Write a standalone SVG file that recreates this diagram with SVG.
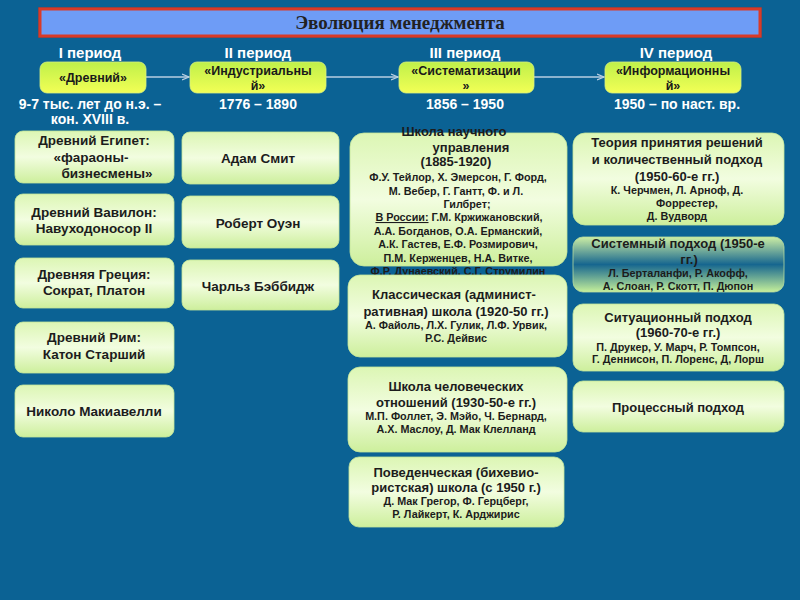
<svg xmlns="http://www.w3.org/2000/svg" width="800" height="600" viewBox="0 0 800 600">
<defs>
<linearGradient id="pill" x1="0" y1="0" x2="0" y2="1">
<stop offset="0" stop-color="#bff04a"/>
<stop offset="1" stop-color="#f2ff55"/>
</linearGradient>
<linearGradient id="box" x1="0" y1="0" x2="0" y2="1">
<stop offset="0" stop-color="#dcf6b4"/>
<stop offset="0.5" stop-color="#f2fde0"/>
<stop offset="1" stop-color="#cdef9c"/>
</linearGradient>
<linearGradient id="sys" x1="0" y1="0" x2="0" y2="1">
<stop offset="0" stop-color="#cdeea4"/>
<stop offset="0.5" stop-color="#16668f"/>
<stop offset="1" stop-color="#c6f09a"/>
</linearGradient>
<marker id="arr" markerWidth="8" markerHeight="8" refX="7" refY="4" orient="auto" markerUnits="userSpaceOnUse">
<path d="M0,1 L7,4 L0,7" fill="none" stroke="#b9cfe2" stroke-width="1.2"/>
</marker>
</defs>
<style>
.hdr{font-family:"Liberation Sans",Arial,sans-serif;font-weight:bold;font-size:15px;fill:#ffffff;text-anchor:middle}
.date{font-family:"Liberation Sans",Arial,sans-serif;font-weight:bold;font-size:14px;fill:#ffffff;text-anchor:middle}
.pt{font-family:"Liberation Sans",Arial,sans-serif;font-weight:bold;font-size:12.5px;fill:#1a1a1a;text-anchor:middle}
.t{font-family:"Liberation Sans",Arial,sans-serif;font-weight:bold;font-size:13px;fill:#1c1c1c;text-anchor:middle}
.t1{font-size:13.5px}
.s{font-family:"Liberation Sans",Arial,sans-serif;font-weight:bold;font-size:10.8px;fill:#1c1c1c;text-anchor:middle}
.pill{fill:url(#pill);stroke:#d8f080;stroke-width:0.8}
.bx{fill:url(#box);stroke:#c4e69a;stroke-width:0.8}
.conn{stroke:#b9cfe2;stroke-width:1.5;fill:none}
</style>
<rect width="800" height="600" fill="#0b6294"/>

<g id="title">
<rect x="38" y="7" width="724" height="31" fill="#8a3a3a" opacity="0.6"/>
<rect x="40" y="9" width="720" height="27" fill="#6e9cf6" stroke="#d93a28" stroke-width="3"/>
<text x="400" y="29" font-family="Liberation Serif,'Times New Roman',serif" font-size="19" font-weight="bold" fill="#222222" text-anchor="middle">Эволюция менеджмента</text>
</g>

<g id="connectors">
<line class="conn" x1="146" y1="77" x2="189" y2="77" marker-end="url(#arr)"/>
<line class="conn" x1="326" y1="77" x2="398" y2="77" marker-end="url(#arr)"/>
<line class="conn" x1="534" y1="77" x2="604" y2="77" marker-end="url(#arr)"/>
</g>

<g id="period1">
<text class="hdr" x="90" y="58">I период</text>
<rect class="pill" x="40" y="62" width="106" height="31" rx="7"/>
<text class="pt" x="93" y="82">«Древний»</text>
<text class="date" x="90" y="109">9-7 тыс. лет до н.э. –</text>
<text class="date" x="90" y="124">кон. XVIII в.</text>
</g>
<g id="period2">
<text class="hdr" x="258" y="58">II период</text>
<rect class="pill" x="190" y="62" width="136" height="31" rx="7"/>
<text class="pt" x="258" y="75">«Индустриальны</text>
<text class="pt" x="258" y="90">й»</text>
<text class="date" x="258" y="109">1776 – 1890</text>
</g>
<g id="period3">
<text class="hdr" x="465" y="58">III период</text>
<rect class="pill" x="399" y="62" width="135" height="31" rx="7"/>
<text class="pt" x="466" y="75">«Систематизации</text>
<text class="pt" x="466" y="90">»</text>
<text class="date" x="465" y="109">1856 – 1950</text>
</g>
<g id="period4">
<text class="hdr" x="676" y="58">IV период</text>
<rect class="pill" x="605" y="62" width="136" height="31" rx="7"/>
<text class="pt" x="673" y="75">«Информационны</text>
<text class="pt" x="673" y="90">й»</text>
<text class="date" x="677" y="109">1950 – по наст. вр.</text>
</g>

<g id="egypt">
<rect class="bx" x="15" y="131" width="159" height="52" rx="8"/>
<text class="t t1" x="94" y="145">Древний Египет:</text>
<text class="t t1" x="91" y="162">«фараоны-</text>
<text class="t t1" x="107" y="178">бизнесмены»</text>
</g>
<g id="babylon">
<rect class="bx" x="15" y="194" width="159" height="51" rx="8"/>
<text class="t t1" x="94" y="217">Древний Вавилон:</text>
<text class="t t1" x="94" y="233">Навуходоносор II</text>
</g>
<g id="greece">
<rect class="bx" x="15" y="258" width="159" height="50" rx="8"/>
<text class="t t1" x="94" y="279">Древняя Греция:</text>
<text class="t t1" x="94" y="295">Сократ, Платон</text>
</g>
<g id="rome">
<rect class="bx" x="15" y="322" width="159" height="51" rx="8"/>
<text class="t t1" x="94" y="342">Древний Рим:</text>
<text class="t t1" x="94" y="359">Катон Старший</text>
</g>
<g id="machiavelli">
<rect class="bx" x="15" y="385" width="159" height="52" rx="8"/>
<text class="t t1" x="94" y="416">Николо Макиавелли</text>
</g>

<g id="smith">
<rect class="bx" x="182" y="132" width="157" height="52" rx="8"/>
<text class="t t1" x="258" y="163">Адам Смит</text>
</g>
<g id="owen">
<rect class="bx" x="182" y="196" width="157" height="52" rx="8"/>
<text class="t t1" x="258" y="228">Роберт Оуэн</text>
</g>
<g id="babbage">
<rect class="bx" x="182" y="260" width="157" height="50" rx="8"/>
<text class="t t1" x="258" y="291">Чарльз Бэббидж</text>
</g>

<g id="scientific">
<rect class="bx" x="350" y="133" width="217" height="133" rx="14"/>
<text class="t" x="454" y="136">Школа научного</text>
<text class="t" x="471" y="152">управления</text>
<text class="t" x="456" y="166">(1885-1920)</text>
<text class="s" x="458" y="181">Ф.У. Тейлор, Х. Эмерсон, Г. Форд,</text>
<text class="s" x="456" y="195">М. Вебер, Г. Гантт, Ф. и Л.</text>
<text class="s" x="467" y="208">Гилбрет;</text>
<text class="s" x="459" y="221"><tspan text-decoration="underline">В России:</tspan> Г.М. Кржижановский,</text>
<text class="s" x="458" y="235">А.А. Богданов, О.А. Ерманский,</text>
<text class="s" x="458" y="248">А.К. Гастев, Е.Ф. Розмирович,</text>
<text class="s" x="458" y="262">П.М. Керженцев, Н.А. Витке,</text>
<text class="s" x="458" y="275">Ф.Р. Дунаевский, С.Г. Струмилин</text>
</g>
<g id="classical">
<rect class="bx" x="348" y="275" width="219" height="82" rx="12"/>
<text class="t" x="454" y="299">Классическая (админист-</text>
<text class="t" x="456" y="316">ративная) школа (1920-50 гг.)</text>
<text class="s" x="456" y="329">А. Файоль, Л.Х. Гулик, Л.Ф. Урвик,</text>
<text class="s" x="456" y="342">Р.С. Дейвис</text>
</g>
<g id="human">
<rect class="bx" x="348" y="367" width="219" height="85" rx="12"/>
<text class="t" x="456" y="391">Школа человеческих</text>
<text class="t" x="456" y="407">отношений (1930-50-е гг.)</text>
<text class="s" x="456" y="420">М.П. Фоллет, Э. Мэйо, Ч. Бернард,</text>
<text class="s" x="456" y="433">А.Х. Маслоу, Д. Мак Клелланд</text>
</g>
<g id="behavioral">
<rect class="bx" x="349" y="457" width="215" height="70" rx="10"/>
<text class="t" x="456" y="477">Поведенческая (бихевио-</text>
<text class="t" x="456" y="492">ристская) школа (с 1950 г.)</text>
<text class="s" x="456" y="505">Д. Мак Грегор, Ф. Герцберг,</text>
<text class="s" x="456" y="518">Р. Лайкерт, К. Арджирис</text>
</g>

<g id="decision">
<rect class="bx" x="573" y="133" width="211" height="92" rx="12"/>
<text class="t" x="677" y="147">Теория принятия решений</text>
<text class="t" x="677" y="164">и количественный подход</text>
<text class="t" x="677" y="181">(1950-60-е гг.)</text>
<text class="s" x="677" y="194">К. Черчмен, Л. Арноф, Д.</text>
<text class="s" x="687" y="207">Форрестер,</text>
<text class="s" x="677" y="220">Д. Вудворд</text>
</g>
<g id="systems">
<rect x="573" y="237" width="211" height="55" rx="10" fill="url(#sys)" stroke="#b8dca0" stroke-width="0.8"/>
<text class="t" x="678" y="248">Системный подход (1950-е</text>
<text class="t" x="689" y="264">гг.)</text>
<text class="s" x="678" y="277">Л. Берталанфи, Р. Акофф,</text>
<text class="s" x="678" y="290">А. Слоан, Р. Скотт, П. Дюпон</text>
</g>
<g id="situational">
<rect class="bx" x="573" y="304" width="211" height="67" rx="10"/>
<text class="t" x="678" y="322">Ситуационный подход</text>
<text class="t" x="678" y="337">(1960-70-е гг.)</text>
<text class="s" x="678" y="351">П. Друкер, У. Марч, Р. Томпсон,</text>
<text class="s" x="678" y="363">Г. Деннисон, П. Лоренс, Д, Лорш</text>
</g>
<g id="process">
<rect class="bx" x="573" y="381" width="211" height="51" rx="10"/>
<text class="t" x="678" y="412">Процессный подход</text>
</g>
</svg>
